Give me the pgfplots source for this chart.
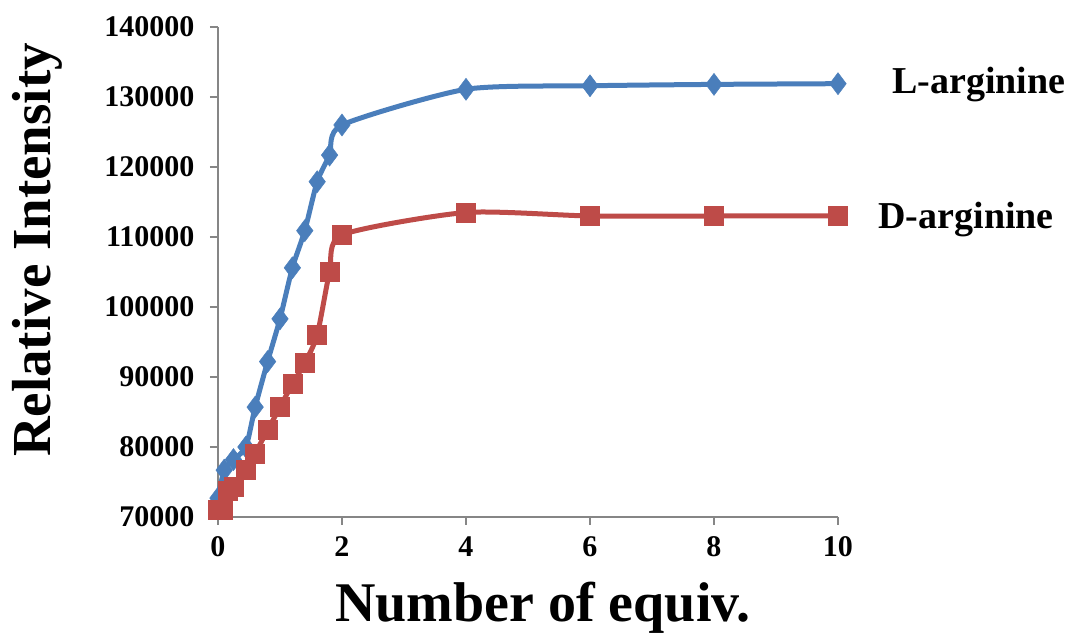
\documentclass[border=0pt]{standalone}
\usepackage{pgfplots}
\pgfplotsset{compat=1.18}
\usepackage{fontspec}
\setmainfont{Liberation Serif}
\definecolor{lblue}{HTML}{4A7EBB}
\definecolor{dred}{HTML}{BE4B48}
\definecolor{axgray}{HTML}{868686}
\begin{document}
\begin{tikzpicture}
\begin{axis}[
  scale only axis, width=620pt, height=490pt,
  xmin=0, xmax=10, ymin=70000, ymax=140000,
  axis lines*=left,
  axis line style={axgray, line width=1.5pt},
  major tick style={axgray, line width=1.5pt},
  tick align=outside, major tick length=8pt,
  scaled y ticks=false, scaled x ticks=false,
  xtick={0,2,4,6,8,10}, xticklabels={0,2,4,6,8,10},
  ytick={70000,80000,90000,100000,110000,120000,130000,140000},
  yticklabels={70000,80000,90000,100000,110000,120000,130000,140000},
  tick label style={font=\bfseries\fontsize{30}{30}\selectfont},
  yticklabel style={xshift=-12pt},
  xticklabel style={yshift=-8pt},
  clip=false,
]
\path (rel axis cs:-0.3516,-0.2551) rectangle (rel axis cs:1.3823,1.0551);
\addplot[lblue, line width=5pt, smooth, tension=0.4, mark=diamond*, mark size=11pt, mark options={fill=lblue, line width=0.5pt}] coordinates {
(0,72700) (0.1,76700) (0.25,78200) (0.45,80000) (0.6,85700) (0.8,92200)
(1.0,98300) (1.2,105600) (1.4,110900) (1.6,117900) (1.8,121700) (2.0,126000)
(4,131100) (6,131600) (8,131800) (10,131900)};
\addplot[dred, line width=5pt, smooth, tension=0.4, mark=square*, mark size=9.5pt, mark options={fill=dred, line width=0.5pt}] coordinates {
(0,71000) (0.08,71100) (0.15,73700) (0.25,74300) (0.45,76700) (0.6,79100)
(0.8,82400) (1.0,85700) (1.2,89000) (1.4,92000) (1.6,96000) (1.8,105000)
(2.0,110300) (4,113500) (6,113000) (8,113000) (10,113000)};
\node[anchor=base west, font=\bfseries\fontsize{38}{38}\selectfont, inner sep=0pt] at (rel axis cs:1.087,0.865) {L-arginine};
\node[anchor=base west, font=\bfseries\fontsize{38}{38}\selectfont, inner sep=0pt] at (rel axis cs:1.065,0.588) {D-arginine};
\node[rotate=90, font=\bfseries\fontsize{55}{55}\selectfont, inner sep=0pt] at (rel axis cs:-0.292,0.545) {Relative Intensity};
\node[font=\bfseries\fontsize{56}{56}\selectfont, inner sep=0pt] at (rel axis cs:0.524,-0.186) {Number of equiv.};
\end{axis}
\end{tikzpicture}
\end{document}
